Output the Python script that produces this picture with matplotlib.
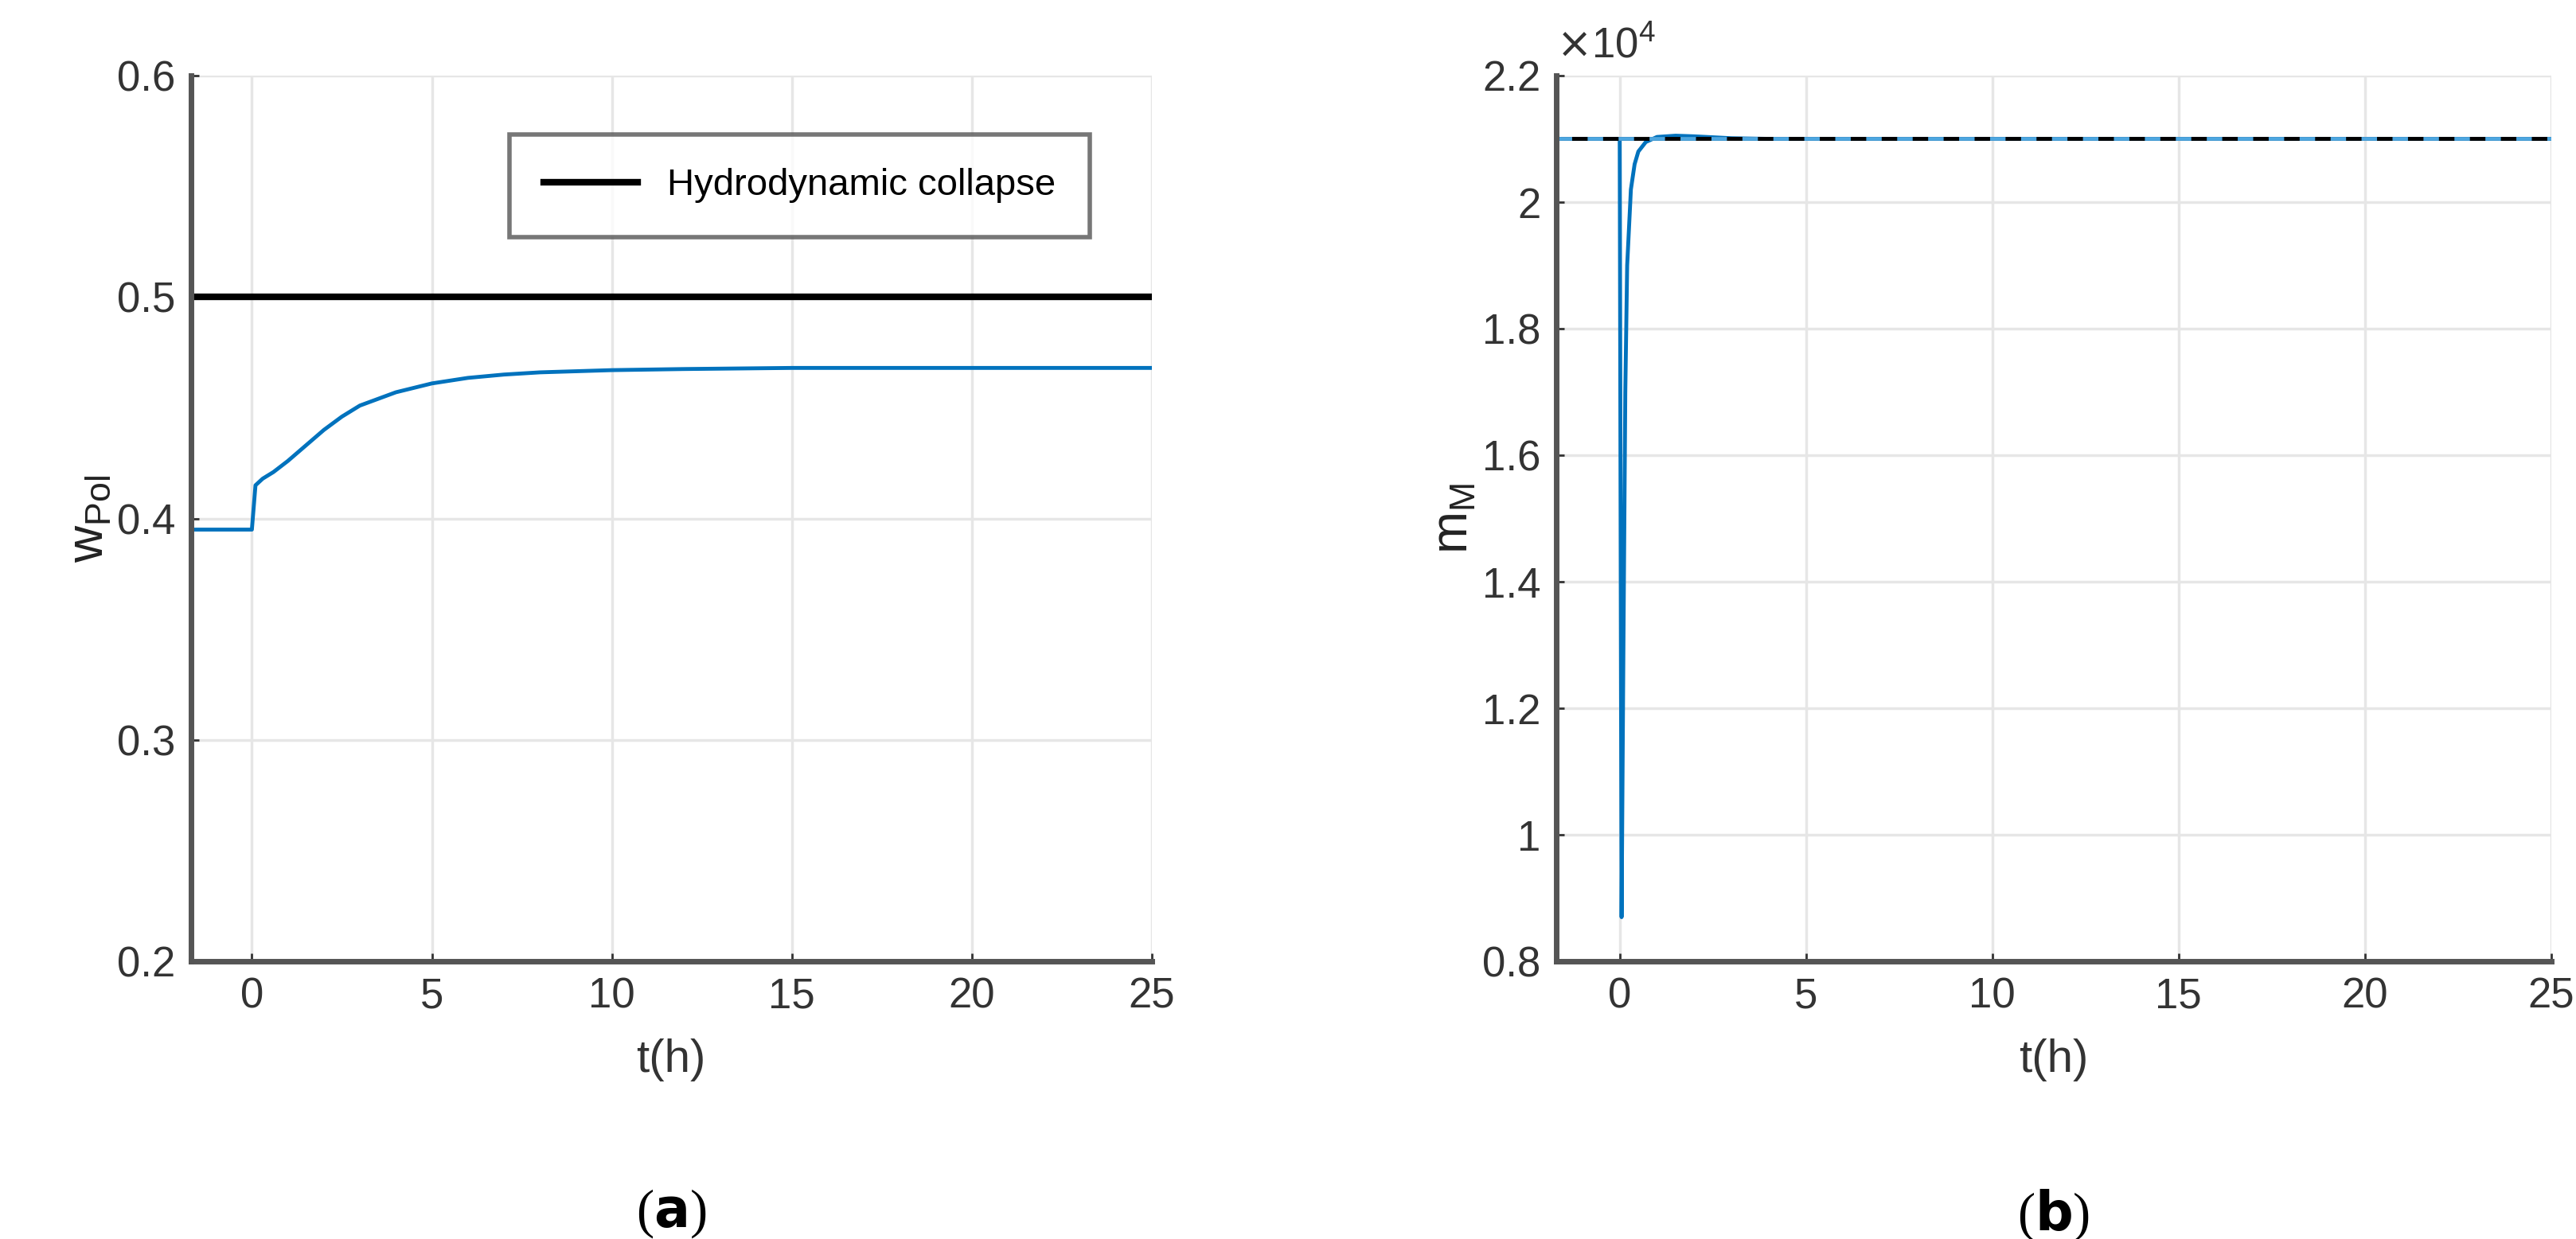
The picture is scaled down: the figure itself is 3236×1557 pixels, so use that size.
import matplotlib
matplotlib.use("Agg")
import matplotlib.pyplot as plt
import numpy as np

plt.rcParams['font.family'] = ['Liberation Sans', 'DejaVu Sans']

# Panel (a) data
t_a = [-1.7, 0.0, 0.05, 0.1, 0.3, 0.6, 1.0, 1.5, 2.0, 2.5, 3.0, 4.0, 5.0, 6.0, 7.0, 8.0, 10.0, 12.0, 15.0, 20.0, 25.0]
w_pol = [0.395, 0.395, 0.405, 0.415, 0.418, 0.421, 0.426, 0.433, 0.440, 0.446, 0.451, 0.457, 0.461, 0.4635, 0.465, 0.466, 0.467, 0.4675, 0.468, 0.468, 0.468]
collapse = 0.5

# Panel (b) data
t_b = [-1.7, 0.0, 0.02, 0.05, 0.1, 0.15, 0.2, 0.3, 0.4, 0.5, 0.7, 1.0, 1.5, 2.0, 3.0, 4.0, 6.0, 10.0, 25.0]
m_m = [2.1, 2.1, 1.6, 0.87, 1.3, 1.7, 1.9, 2.02, 2.06, 2.08, 2.095, 2.103, 2.105, 2.104, 2.101, 2.1, 2.1, 2.1, 2.1]
setpoint = 2.1

fig = plt.figure(figsize=(32.37, 15.57), dpi=100)
ax1 = fig.add_axes([0.074, 0.224, 0.373, 0.715])
ax2 = fig.add_axes([0.604, 0.224, 0.386, 0.715])

blue = '#0072BD'
grid_c = '#e6e6e6'

ax1.plot([-1.7, 25], [collapse, collapse], color='black', lw=6, label='Hydrodynamic collapse')
ax1.plot(t_a, w_pol, color=blue, lw=3.5)
ax1.set_xlim(-1.7, 25)
ax1.set_ylim(0.2, 0.6)
ax1.set_yticks([0.2, 0.3, 0.4, 0.5, 0.6])
ax1.set_ylabel(r'w$_{\mathregular{Pol}}$', fontsize=46, color='#222222')
leg = ax1.legend(loc='upper right', bbox_to_anchor=(0.955, 0.955), fontsize=34, frameon=True,
                 fancybox=False, edgecolor='#555555', handlelength=2.5, borderpad=0.9)
leg.get_frame().set_linewidth(4)

ax2.plot(t_b, m_m, color=blue, lw=3.5)
ax2.plot([-1.7, 25], [setpoint, setpoint], color='black', lw=3.5)
ax2.plot([-1.7, 25], [setpoint, setpoint], color='#4da6e0', lw=3.5, ls=(0, (4, 4)))
ax2.set_xlim(-1.7, 25)
ax2.set_ylim(0.8, 2.2)
ax2.set_yticks([0.8, 1, 1.2, 1.4, 1.6, 1.8, 2, 2.2])
ax2.set_yticklabels(['0.8', '1', '1.2', '1.4', '1.6', '1.8', '2', '2.2'])
ax2.set_ylabel(r'm$_{\mathregular{M}}$', fontsize=46, color='#222222')
ax2.text(0.0, 1.01, r'$\times\mathregular{10^4}$', transform=ax2.transAxes, fontsize=38, color='#333333', va='bottom')

for ax, lab in [(ax1, 'a'), (ax2, 'b')]:
    ax.set_xticks([0, 5, 10, 15, 20, 25])
    ax.grid(True, color=grid_c, lw=2.5)
    ax.set_axisbelow(True)
    ax.set_xlabel('t(h)', fontsize=42, color='#333333', labelpad=20)
    ax.tick_params(labelsize=38, colors='#333333', length=7, width=2, direction='in', pad=14)
    for s in ['top', 'right']:
        ax.spines[s].set_visible(False)
    for s in ['left', 'bottom']:
        ax.spines[s].set_color('#555555')
        ax.spines[s].set_linewidth(5)
    ax.text(0.5, -0.255, r'($\mathbf{' + lab + r'}$)', transform=ax.transAxes, ha='center', va='top', fontsize=48,
            family=['Liberation Serif', 'DejaVu Serif'])

plt.rcParams['mathtext.fontset'] = 'custom'
fig.savefig('out.png', dpi=100)
